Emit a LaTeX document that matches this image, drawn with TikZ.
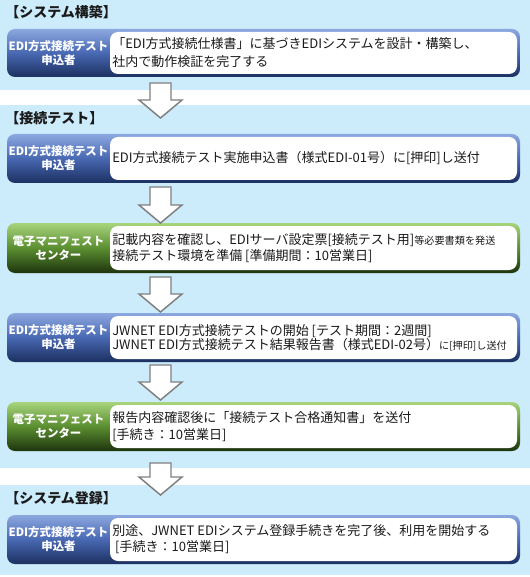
\documentclass[tikz,border=0pt]{standalone}
\usepackage{fontspec}
\setmainfont{Noto Sans CJK JP}
\definecolor{bgblue}{HTML}{CCEBFB}
\definecolor{bluetop}{HTML}{8CA8E0}
\definecolor{bluemid}{HTML}{4868B2}
\definecolor{bluebot}{HTML}{1C3060}
\definecolor{greentop}{HTML}{A8D47C}
\definecolor{greenmid}{HTML}{5A8E30}
\definecolor{greenbot}{HTML}{1E340E}
\definecolor{txt}{HTML}{1A1A1A}
\definecolor{arrowgray}{HTML}{7F7F7F}
\newcommand\stepframe[5]{%
  \shade[top color=#4top, bottom color=#4bot, middle color=#4mid, rounded corners=6] (7,#2) rectangle (520,#3);
  \fill[white, rounded corners=6] (110,#2+3) rectangle (517,#3-3);
  \node[labeltext] (#1lab) at (58.5,{(#2+#3)/2}) {#5};
}
\newcommand\flowarrow[3]{%
  \draw[blockarrow] (150,#2) -- (171,#2) -- (171,#3-18) -- (182,#3-18) -- (160.5,#3) -- (139,#3-18) -- (150,#3-18) -- cycle;
  \coordinate (#1) at (160.5,#3);
}
\newcommand\smalltxt[1]{{\fontsize{7.6pt}{9pt}\selectfont #1}}
\begin{document}
\begin{tikzpicture}[x=0.75pt,y=-0.75pt,
  labeltext/.style={text=white, font=\bfseries\fontsize{8.6pt}{10.5pt}\selectfont, align=center, inner sep=0pt},
  bodytext/.style={text=txt, anchor=west, align=left, inner sep=0pt},
  titletext/.style={text=txt, anchor=west, inner sep=0pt, font=\bfseries\fontsize{10.5pt}{12pt}\selectfont},
  blockarrow/.style={draw=arrowgray, fill=white, line width=1.1pt, line join=miter}]
\useasboundingbox (0,0) rectangle (530,577);
% backgrounds
\fill[white] (0,0) rectangle (530,577);
\fill[bgblue] (0,0) rectangle (530,90);
\fill[bgblue] (0,105) rectangle (530,468);
\fill[bgblue] (0,485) rectangle (530,575);
% titles
\node[titletext] (t1) at (5,12) {【システム構築】};
\node[titletext] (t2) at (5,118) {【接続テスト】};
\node[titletext] (t3) at (5,498) {【システム登録】};
% boxes
\stepframe{b1}{29}{77}{blue}{EDI方式接続テスト\\申込者}
\node[bodytext, font=\fontsize{9.75pt}{13.5pt}\selectfont] (b1txt) at (112,53) {「EDI方式接続仕様書」に基づきEDIシステムを設計・構築し、\\社内で動作検証を完了する};
\stepframe{b2}{134}{183}{blue}{EDI方式接続テスト\\申込者}
\node[bodytext, font=\fontsize{9.75pt}{12pt}\selectfont] (b2txt) at (112,158.5) {EDI方式接続テスト実施申込書（様式EDI-01号）に[押印]し送付};
\stepframe{b3}{223}{273}{green}{電子マニフェスト\\センター}
\node[bodytext, font=\fontsize{9.75pt}{12pt}\selectfont] (b3txt) at (112,248) {記載内容を確認し、EDIサーバ設定票[接続テスト用]\smalltxt{等必要書類を発送}\\接続テスト環境を準備 [準備期間：10営業日]};
\stepframe{b4}{313}{362}{blue}{EDI方式接続テスト\\申込者}
\node[bodytext, font=\fontsize{9.75pt}{10.5pt}\selectfont] (b4txt) at (112,337.5) {JWNET EDI方式接続テストの開始 [テスト期間：2週間]\\JWNET EDI方式接続テスト結果報告書（様式EDI-02号）\smalltxt{に[押印]し送付}};
\stepframe{b5}{402}{451}{green}{電子マニフェスト\\センター}
\node[bodytext, font=\fontsize{9.75pt}{12.75pt}\selectfont] (b5txt) at (112,426.5) {報告内容確認後に「接続テスト合格通知書」を送付\\{[}手続き：10営業日]};
\stepframe{b6}{515}{564}{blue}{EDI方式接続テスト\\申込者}
\node[bodytext, font=\fontsize{9.75pt}{12pt}\selectfont] (b6txt) at (112,539.5) {別途、JWNET EDIシステム登録手続きを完了後、利用を開始する\\\ {[}手続き：10営業日]};
% arrows
\flowarrow{a1}{83}{118}
\flowarrow{a2}{187}{223}
\flowarrow{a3}{277}{312}
\flowarrow{a4}{365}{400}
\flowarrow{a5}{463}{495}
\end{tikzpicture}
\end{document}
